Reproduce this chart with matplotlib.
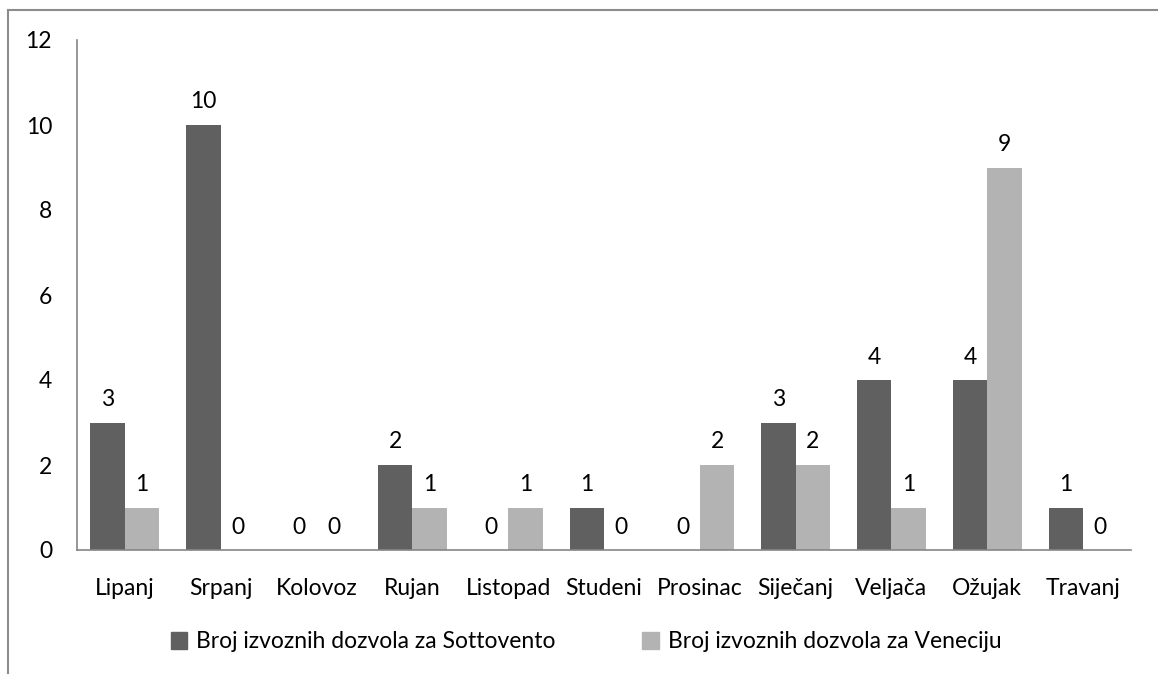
import matplotlib
matplotlib.use("Agg")
import matplotlib.pyplot as plt
import numpy as np
from matplotlib.lines import Line2D
from matplotlib.patches import Rectangle

months = ["Lipanj", "Srpanj", "Kolovoz", "Rujan", "Listopad", "Studeni",
          "Prosinac", "Siječanj", "Veljača", "Ožujak", "Travanj"]
sottovento = [3, 10, 0, 2, 0, 1, 0, 3, 4, 4, 1]
venecija = [1, 0, 0, 1, 1, 0, 2, 2, 1, 9, 0]
series_names = ["Broj izvoznih dozvola za Sottovento",
                "Broj izvoznih dozvola za Veneciju"]
yticks = [0, 2, 4, 6, 8, 10, 12]

DARK = "#606060"
LIGHT = "#b3b3b3"
GRID = "#868686"
FS = 16.5

plt.rcParams["font.family"] = ["Lato", "DejaVu Sans"]

W, H = 1158, 674
fig = plt.figure(figsize=(W / 100, H / 100), dpi=100)
ax = fig.add_axes([77 / W, 1 - 550 / H, (1131 - 77) / W, (550 - 40) / H])

x = np.arange(len(months))
bw = 0.36
b1 = ax.bar(x - bw / 2, sottovento, bw, color=DARK, label=series_names[0])
b2 = ax.bar(x + bw / 2, venecija, bw, color=LIGHT, label=series_names[1])
for bars in (b1, b2):
    ax.bar_label(bars, padding=9, fontsize=FS)

ax.set_xlim(-0.5, len(months) - 0.5)
ax.set_ylim(0, 12)
ax.set_yticks(yticks)
ax.set_xticks(x, months)
ax.tick_params(axis="both", length=0, labelsize=FS)
ax.tick_params(axis="y", pad=18)
ax.tick_params(axis="x", pad=20)
for side in ("top", "right"):
    ax.spines[side].set_visible(False)
for side in ("left", "bottom"):
    ax.spines[side].set_color(GRID)
    ax.spines[side].set_linewidth(1.2)

handles = [Rectangle((0, 0), 1, 1, color=DARK), Rectangle((0, 0), 1, 1, color=LIGHT)]
fig.legend(handles, series_names, loc="center", ncol=2, frameon=False,
           bbox_to_anchor=(586 / W, 1 - 642 / H), fontsize=FS,
           handlelength=0.7, handleheight=0.7, handletextpad=0.4,
           columnspacing=3.8)

# chart border (partially cropped in the original)
fig.add_artist(Line2D([8 / W, 8 / W], [0, 1 - 10 / H], color="#8c8c8c", lw=1.5))
fig.add_artist(Line2D([8 / W, 1], [1 - 10 / H, 1 - 10 / H], color="#8c8c8c", lw=1.5))

fig.savefig("out.png", dpi=100)
